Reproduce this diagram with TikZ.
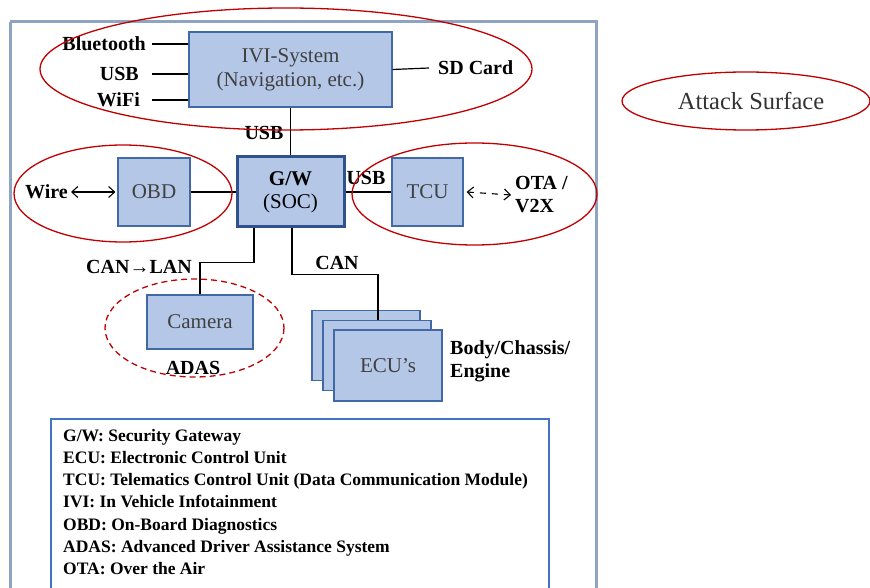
\documentclass[tikz,border=0pt]{standalone}
\usepackage{fontspec}
\setmainfont{Liberation Serif}
\usetikzlibrary{arrows.meta}

\definecolor{boxfill}{RGB}{180,199,231}
\definecolor{boxline}{RGB}{65,105,165}
\definecolor{gwline}{RGB}{47,82,143}
\definecolor{framecol}{RGB}{143,164,192}
\definecolor{legline}{RGB}{68,114,196}
\definecolor{surf}{RGB}{192,0,0}
\definecolor{boxtext}{RGB}{64,64,64}

\tikzset{
  unit/.style={draw=boxline, fill=boxfill, line width=1.2pt, inner sep=0pt,
    text=boxtext, align=center, font=\fontsize{21}{24}\selectfont},
  gateway/.style={unit, draw=gwline, line width=3pt, text=black},
  lbl/.style={inner sep=0pt, font=\fontsize{20}{23}\selectfont\bfseries},
  legtext/.style={inner sep=0pt, anchor=base west, font=\fontsize{17.5}{20}\selectfont\bfseries},
  surface/.style={draw=surf, line width=1.3pt},
  link/.style={line width=1.2pt},
  barb/.style={line width=1.1pt, {Straight Barb[length=6pt,width=11pt]}-{Straight Barb[length=6pt,width=11pt]}}
}

\begin{document}
\begin{tikzpicture}[x=1pt, y=-1pt]
\useasboundingbox (0,0) rectangle (870,588);

% vehicle frame and legend frame
\draw[framecol, line width=3pt] (10,22) -- (10,600) (10,22) -- (596,22) -- (596,600);
\draw[legline, line width=1.2pt] (51,600) -- (51,419) -- (549,419) -- (549,600);

% components
\node[unit, minimum width=203pt, minimum height=75pt] (ivi) at (290.5,69.5) {IVI-System\\(Navigation, etc.)};
\node[gateway, minimum width=107pt, minimum height=70pt] (gw) at (290.5,192) {\textbf{G/W}\\[-1pt](SOC)};
\node[unit, minimum width=72pt, minimum height=68pt] (obd) at (154,192) {OBD};
\node[unit, minimum width=71pt, minimum height=68pt] (tcu) at (427.5,192) {TCU};
\node[unit, minimum width=106pt, minimum height=54pt] (cam) at (200,322) {Camera};
\node[unit, minimum width=108pt, minimum height=70pt] (ecua) at (366,345.5) {};
\node[unit, minimum width=108pt, minimum height=70pt] (ecub) at (377,355.5) {};
\node[unit, minimum width=108pt, minimum height=71pt] (ecuc) at (388,365.5) {ECU’s};

% interface labels
\node[lbl, anchor=east] (bt) at (146,44) {Bluetooth};
\node[lbl, anchor=east] (usbin) at (139,74) {USB};
\node[lbl, anchor=east] (wifi) at (140,100) {WiFi};
\node[lbl, anchor=west] (sd) at (438,68) {SD Card};
\node[lbl] (usbv) at (264,133) {USB};
\node[lbl] (usbh) at (366,178) {USB};
\node[lbl, anchor=east] (wire) at (68,192) {Wire};
\node[lbl, anchor=west, align=left] (ota) at (515,195) {OTA /\\V2X};
\node[lbl] (canlan) at (139,267) {CAN→LAN};
\node[lbl] (can) at (337,263) {CAN};
\node[lbl] (adas) at (193,368) {ADAS};
\node[lbl, anchor=west, align=left] (body) at (450,361) {Body/Chassis/\\Engine};

% connections
\coordinate (lstart) at (152,0);
\draw[link] (lstart |- bt.east) -- (bt.east -| ivi.west);
\draw[link] (lstart |- usbin.east) -- (usbin.east -| ivi.west);
\draw[link] (lstart |- wifi.east) -- (wifi.east -| ivi.west);
\draw[link] (ivi.east) -- ([xshift=-9pt]sd.west);
\draw[link] (ivi.south -| gw.north) -- (gw.north);
\draw[link] (obd.east) -- (gw.west);
\draw[link] (gw.east) -- (tcu.west);
\draw[barb] ([xshift=3pt]wire.east) -- ([xshift=-2pt]obd.west);
\draw[barb, dash pattern=on 6pt off 6pt] ([xshift=3pt]tcu.east) -- ([xshift=-4pt]ota.west);
\draw[link] ([xshift=-36.5pt]gw.south) -- ++(0,34) -| (cam.north);
\draw[link] ([xshift=1.5pt]gw.south) -- ++(0,46) -| ([xshift=1pt]ecub.north);

% attack surfaces
\draw[surface] (286,69) ellipse [x radius=246, y radius=61];
\draw[surface] (123,193.5) ellipse [x radius=109, y radius=48.5];
\draw[surface] (474.5,194) ellipse [x radius=122.5, y radius=51];
\draw[surface, dashed, dash pattern=on 6pt off 4pt] (194.5,328) ellipse [x radius=89.5, y radius=49];

% key
\draw[surface] (746,101) ellipse [x radius=124, y radius=29];
\node[inner sep=0pt, text=black!80, font=\fontsize{24.5}{27}\selectfont] (key) at (751,101) {Attack Surface};

% legend
\foreach \t [count=\i] in {G/W: Security Gateway,
  ECU: Electronic Control Unit,
  TCU: Telematics Control Unit (Data Communication Module),
  IVI: In Vehicle Infotainment,
  OBD: On-Board Diagnostics,
  ADAS: Advanced Driver Assistance System,
  OTA: Over the Air}
  \node[legtext] (leg\i) at (63,{441+22.3*(\i-1)}) {\t};
\end{tikzpicture}
\end{document}
